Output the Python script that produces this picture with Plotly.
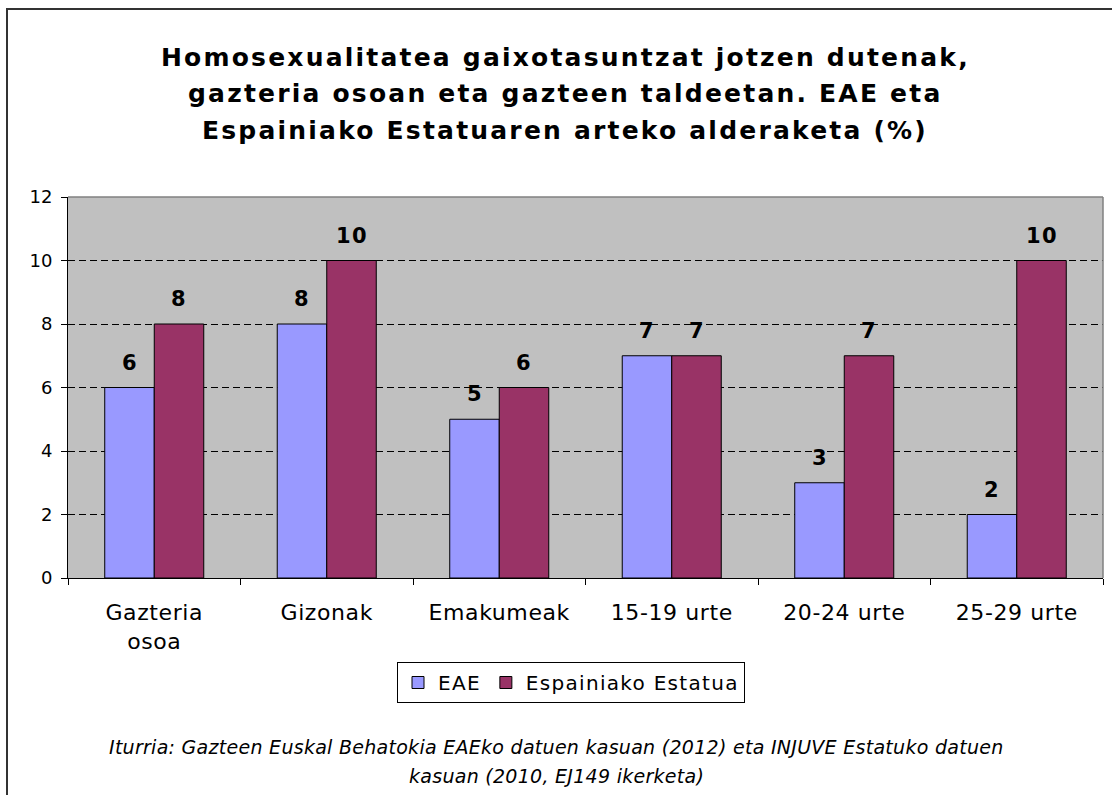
import plotly.graph_objects as go

categories = ["Gazteria osoa", "Gizonak", "Emakumeak", "15-19 urte", "20-24 urte", "25-29 urte"]
tick_labels = ["Gazteria<br>osoa", "Gizonak", "Emakumeak", "15-19 urte", "20-24 urte", "25-29 urte"]
eae = [6, 8, 5, 7, 3, 2]
espainia = [8, 10, 6, 7, 7, 10]
series_names = ["EAE", "Espainiako Estatua"]
colors = ["#9999FF", "#993366"]
title_lines = [
    "Homosexualitatea gaixotasuntzat jotzen dutenak,",
    "gazteria osoan eta gazteen taldeetan. EAE eta",
    "Espainiako Estatuaren arteko alderaketa (%)",
]
source_lines = [
    "Iturria: Gazteen Euskal Behatokia EAEko datuen kasuan (2012) eta INJUVE Estatuko datuen",
    "kasuan (2010, EJ149 ikerketa)",
]

FONT = "DejaVu Sans, Verdana, sans-serif"
W, H = 1112, 795
L, R, T, B = 68, 1103, 197, 578
pw, ph = R - L, B - T


def px(x):
    return (x - L) / pw


def py(y):
    return (B - y) / ph


def sp(text, ls):
    return f'<span style="letter-spacing:{ls}px">{text}</span>'


fig = go.Figure()
for name, vals, c in zip(series_names, [eae, espainia], colors):
    fig.add_trace(go.Bar(
        name=sp(name, 1.3), x=categories, y=vals,
        marker=dict(color=c, line=dict(color="black", width=1)),
    ))

annotations = []
bar_w = 49.5
for vals, sh in [(eae, -bar_w / 2), (espainia, bar_w / 2)]:
    for cat, v in zip(categories, vals):
        annotations.append(dict(
            x=cat, y=v, xref="x", yref="y", text=sp(f"<b>{v}</b>", 1.5), showarrow=False,
            xshift=sh, yshift=11, yanchor="bottom",
            font=dict(family=FONT, size=21, color="black"),
        ))

for i, line in enumerate(title_lines):
    annotations.append(dict(
        x=px(565), y=py(57 + i * 36.5), xref="paper", yref="paper", showarrow=False,
        text=sp(f"<b>{line}</b>", 2.2), xanchor="center", yanchor="middle",
        font=dict(family=FONT, size=25, color="black"),
    ))
for i, line in enumerate(source_lines):
    annotations.append(dict(
        x=px(556), y=py(746.5 + i * 29.5), xref="paper", yref="paper", showarrow=False,
        text=sp(f"<i>{line}</i>", 0.28), xanchor="center", yanchor="middle",
        font=dict(family=FONT, size=19, color="black"),
    ))

shapes = [
    dict(type="rect", xref="paper", yref="paper", x0=px(7), x1=px(1125), y0=py(820), y1=py(9),
         line=dict(color="#333333", width=2), layer="below"),
    dict(type="line", xref="paper", yref="paper", x0=0, x1=1, y0=1, y1=1,
         line=dict(color="#808080", width=1.5), layer="above"),
    dict(type="line", xref="paper", yref="paper", x0=1, x1=1, y0=0, y1=1,
         line=dict(color="#808080", width=1.5), layer="above"),
]

fig.update_layout(
    width=W, height=H,
    margin=dict(l=L, r=W - R, t=T, b=H - B, pad=0),
    paper_bgcolor="white", plot_bgcolor="#C0C0C0",
    barmode="group", bargap=0.426, bargroupgap=0,
    font=dict(family=FONT, color="black"),
    annotations=annotations, shapes=shapes,
    legend=dict(
        orientation="h", x=px(571), y=py(662), xanchor="center", yanchor="top",
        bordercolor="black", borderwidth=1, bgcolor="white",
        font=dict(family=FONT, size=20, color="black"),
        itemwidth=30, tracegroupgap=0,
    ),
    showlegend=True,
)
fig.update_xaxes(
    tickvals=categories, ticktext=[sp(t, 0.6) for t in tick_labels],
    showline=True, linecolor="black", linewidth=1,
    ticks="outside", ticklen=6, tickcolor="black", tickson="boundaries",
    tickfont=dict(family=FONT, size=22), showgrid=False,
    ticklabelstandoff=15,
)
fig.update_yaxes(
    range=[0, 12], dtick=2, showline=True, linecolor="black", linewidth=1,
    ticks="outside", ticklen=6, tickcolor="black",
    tickfont=dict(family=FONT, size=18),
    showgrid=True, gridcolor="black", gridwidth=1, griddash="7px,4px",
    zeroline=False, ticklabelstandoff=5,
)

fig.write_html("out.html", config={"displayModeBar": False},
               post_script="document.body.style.margin='0';")
